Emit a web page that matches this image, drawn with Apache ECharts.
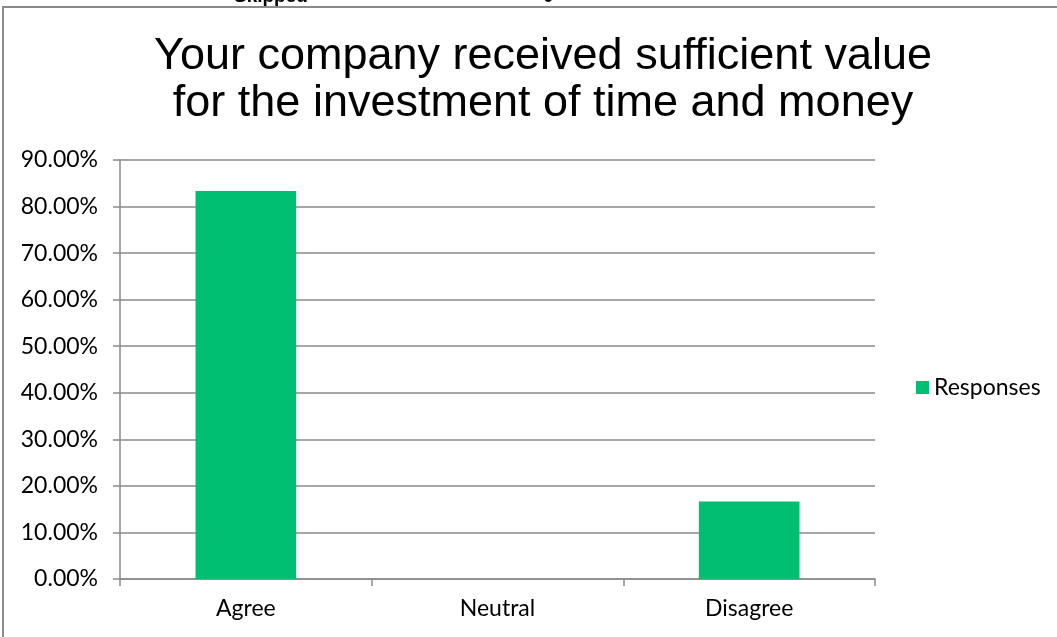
<!DOCTYPE html>
<html><head><meta charset="utf-8">
<script src="https://cdn.jsdelivr.net/npm/echarts@6/dist/echarts.min.js"></script>
<style>html,body{margin:0;padding:0;background:#fff}#c{width:1057px;height:637px}</style>
</head><body><div id="c"></div>
<script>
const categories = ['Agree', 'Neutral', 'Disagree'];
const responses = [0.8333, 0, 0.1667];
const seriesName = 'Responses';
const titleText = 'Your company received sufficient value\nfor the investment of time and money';

const chart = echarts.init(document.getElementById('c'), null, {renderer: 'canvas'});
const axisFont = 'Lato, "Open Sans", sans-serif';
chart.setOption({
  animation: false,
  backgroundColor: '#fff',
  title: {
    text: titleText, left: 538, top: 28, textAlign: 'center',
    textStyle: {fontFamily: '"Liberation Sans", Arial, sans-serif', fontSize: 45, fontWeight: 'normal', color: '#000', lineHeight: 47}
  },
  legend: {
    data: [seriesName], left: 911, top: 371, icon: 'rect', itemWidth: 13, itemHeight: 13, itemGap: 6,
    textStyle: {fontFamily: axisFont, fontSize: 23, color: '#000'}
  },
  graphic: [
    {type: 'rect', shape: {x: 3, y: 7, width: 1080, height: 700}, style: {fill: null, stroke: '#8a8a8a', lineWidth: 2}},
    {type: 'text', left: 234, top: -13, style: {text: 'Skipped', font: 'bold 19px "Liberation Sans", sans-serif', fill: '#000'}},
    {type: 'text', left: 543, top: -13, style: {text: '0', font: 'bold 19px "Liberation Sans", sans-serif', fill: '#000'}}
  ],
  grid: {left: 120, right: 182, top: 160, bottom: 58, containLabel: false},
  xAxis: {
    type: 'category', data: categories,
    axisLine: {lineStyle: {color: '#8a8a8a', width: 1.5}},
    axisTick: {show: true, alignWithLabel: false, length: 7, lineStyle: {color: '#8a8a8a', width: 1.5}},
    axisLabel: {fontFamily: axisFont, fontSize: 23, color: '#000', margin: 18}
  },
  yAxis: {
    type: 'value', min: 0, max: 0.9, interval: 0.1,
    axisLine: {show: true, lineStyle: {color: '#8a8a8a', width: 1.5}},
    axisTick: {show: true, length: 7, lineStyle: {color: '#8a8a8a', width: 1.5}},
    splitLine: {lineStyle: {color: '#8a8a8a', width: 1.5}},
    axisLabel: {fontFamily: axisFont, fontSize: 23, color: '#000', margin: 22,
      formatter: v => (v * 100).toFixed(2) + '%'}
  },
  series: [{
    name: seriesName, type: 'bar', data: responses, barWidth: '40%',
    itemStyle: {color: '#00bf72'}
  }]
});
</script></body></html>
